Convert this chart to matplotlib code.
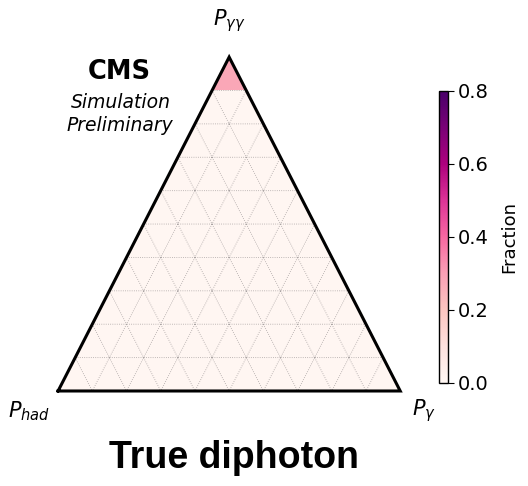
import matplotlib
matplotlib.use("Agg")
import matplotlib.pyplot as plt
import matplotlib.tri as mtri
import numpy as np

# Fraction of true diphoton events per ternary cell, rows from the P_yy corner down.
# Row k holds 2k+1 triangles, alternating up/down from the P_had side.
row_fractions = [
    [0.28],
    [0.008, 0.007, 0.008],
    [0.007, 0.007, 0.008, 0.007, 0.007],
    [0.007, 0.007, 0.007, 0.008, 0.007, 0.007, 0.007],
    [0.007, 0.007, 0.007, 0.007, 0.008, 0.007, 0.007, 0.007, 0.007],
    [0.007, 0.007, 0.007, 0.007, 0.007, 0.008, 0.007, 0.007, 0.007, 0.007, 0.007],
    [0.007, 0.007, 0.007, 0.007, 0.007, 0.007, 0.008, 0.007, 0.007, 0.007, 0.007, 0.007, 0.007],
    [0.007, 0.007, 0.007, 0.007, 0.007, 0.007, 0.007, 0.008, 0.007, 0.007, 0.007, 0.007, 0.007, 0.007, 0.007],
    [0.008, 0.007, 0.007, 0.007, 0.007, 0.007, 0.007, 0.007, 0.008, 0.007, 0.007, 0.007, 0.007, 0.007, 0.007, 0.007, 0.008],
    [0.008, 0.007, 0.007, 0.007, 0.007, 0.007, 0.007, 0.007, 0.007, 0.007, 0.007, 0.007, 0.007, 0.007, 0.007, 0.007, 0.007, 0.007, 0.008],
]
corner_labels = [r"$P_{had}$", r"$P_{\gamma}$", r"$P_{\gamma\gamma}$"]
cbar_ticks = [0.0, 0.2, 0.4, 0.6, 0.8]
title = "True diphoton"

n = len(row_fractions)

# lattice points: level i from the bottom, index j along the level
pts = {}
xs, ys = [], []
for i in range(n + 1):
    for j in range(n - i + 1):
        pts[(i, j)] = len(xs)
        xs.append((j + i / 2) / n)
        ys.append(i / n)

tris, vals = [], []
for k, row in enumerate(row_fractions):
    i = n - 1 - k  # level of the bottom edge of this row
    for m, v in enumerate(row):
        j = m // 2
        if m % 2 == 0:
            tris.append([pts[(i, j)], pts[(i, j + 1)], pts[(i + 1, j)]])
        else:
            tris.append([pts[(i, j + 1)], pts[(i + 1, j + 1)], pts[(i + 1, j)]])
        vals.append(v)

tri = mtri.Triangulation(xs, ys, np.array(tris))

fig = plt.figure(figsize=(5.28, 4.86), dpi=100)
ax = fig.add_axes([0.110, 0.1955, 0.648, 0.687])
pc = ax.tripcolor(tri, facecolors=np.array(vals), cmap="RdPu", vmin=0.0, vmax=0.8,
                  edgecolors="none")

# dotted grid along the three ternary directions
ax.triplot(tri, color="#a09a9a", lw=0.6, ls=":", alpha=0.9)

ax.plot([0, 1, 0.5, 0], [0, 0, 1, 0], color="black", lw=2.2, solid_joinstyle="miter",
        clip_on=False, zorder=5)
ax.set_xlim(0, 1)
ax.set_ylim(0, 1)
ax.axis("off")

ax.text(-0.085, -0.06, corner_labels[0], fontsize=15, ha="center", va="center")
ax.text(1.07, -0.06, corner_labels[1], fontsize=15, ha="center", va="center")
ax.text(0.5, 1.11, corner_labels[2], fontsize=15, ha="center", va="center")

ax.text(0.18, 0.955, "CMS", fontsize=18.5, fontweight="bold", ha="center", va="center",
        transform=ax.transAxes)
ax.text(0.185, 0.865, "Simulation", fontsize=13.5, style="italic", ha="center", va="center",
        transform=ax.transAxes)
ax.text(0.18, 0.796, "Preliminary", fontsize=13.5, style="italic", ha="center", va="center",
        transform=ax.transAxes)

cax = fig.add_axes([0.831, 0.212, 0.017, 0.601])
cb = fig.colorbar(pc, cax=cax, ticks=cbar_ticks)
cb.ax.tick_params(labelsize=14, length=4)
cb.set_label("Fraction", fontsize=13, labelpad=8)
cb.outline.set_linewidth(1.0)

fig.text(0.443, 0.058, title, fontsize=27, fontweight="bold", family="Liberation Sans",
         ha="center", va="center")

fig.savefig("out.png", dpi=100)
